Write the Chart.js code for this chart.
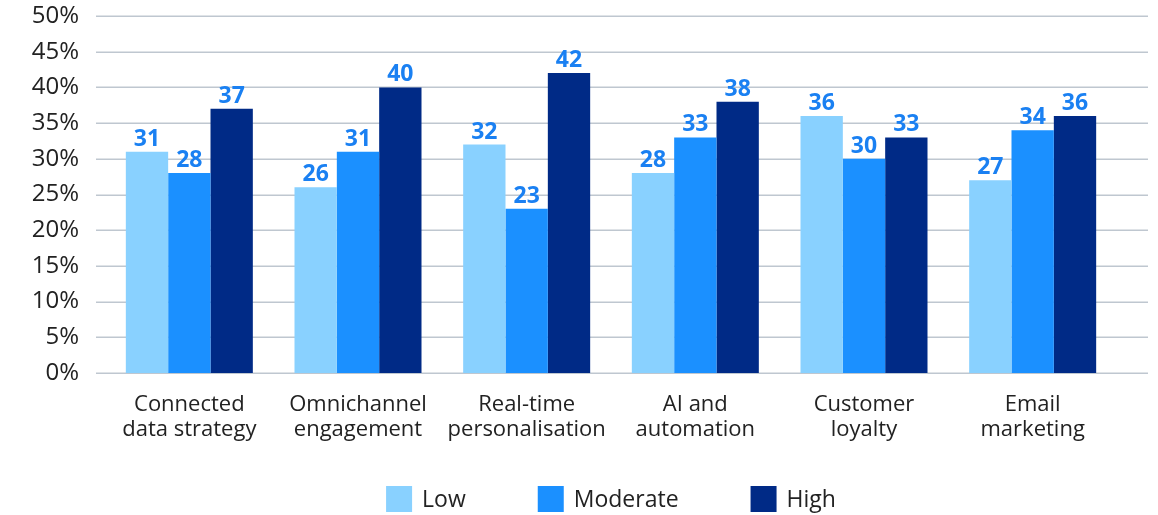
<!DOCTYPE html>
<html>
<head>
<meta charset="utf-8">
<script src="https://cdn.jsdelivr.net/npm/chart.js@4.4.1/dist/chart.umd.min.js"></script>
<style>
  html, body { margin: 0; padding: 0; background: #ffffff; }
  #wrap { width: 1158px; height: 515px; position: relative; }
</style>
</head>
<body>
<div id="wrap"><canvas id="chart"></canvas></div>
<script>
// Categories (multi-line labels) and values per maturity level
const categories = [
  ["Connected", "data strategy"],
  ["Omnichannel", "engagement"],
  ["Real-time", "personalisation"],
  ["AI and", "automation"],
  ["Customer", "loyalty"],
  ["Email", "marketing"]
];
const seriesNames = ["Low", "Moderate", "High"];
const lowValues = [31, 26, 32, 28, 36, 27];
const moderateValues = [28, 31, 23, 33, 30, 34];
const highValues = [37, 40, 42, 38, 33, 36];
const yTickValues = [0, 5, 10, 15, 20, 25, 30, 35, 40, 45, 50];

const seriesColors = ["#89d1ff", "#1b90ff", "#002a86"];
const FONT = "'Open Sans', 'Noto Sans', sans-serif";
const TEXT_COLOR = "#222222";
const VALUE_COLOR = "#1a80f2";
const GRID_COLOR = "#bfc7d0";

// Horizontal gridlines, running a bit wider than the bar area
const gridPlugin = {
  id: "wideGrid",
  beforeDatasetsDraw(chart) {
    const { ctx, scales: { y } } = chart;
    ctx.save();
    ctx.strokeStyle = GRID_COLOR;
    ctx.lineWidth = 1.5;
    yTickValues.forEach(v => {
      const py = Math.round(y.getPixelForValue(v)) + 0.25;
      ctx.beginPath();
      ctx.moveTo(96, py);
      ctx.lineTo(1148, py);
      ctx.stroke();
    });
    ctx.restore();
  }
};

// Value labels above each bar
const valueLabelPlugin = {
  id: "valueLabels",
  afterDatasetsDraw(chart) {
    const { ctx } = chart;
    ctx.save();
    ctx.font = "bold 23px " + FONT;
    ctx.fillStyle = VALUE_COLOR;
    ctx.textAlign = "center";
    ctx.textBaseline = "alphabetic";
    chart.data.datasets.forEach((ds, i) => {
      const meta = chart.getDatasetMeta(i);
      meta.data.forEach((bar, j) => {
        ctx.fillText(String(ds.data[j]), bar.x, bar.y - 6);
      });
    });
    ctx.restore();
  }
};

// Legend row under the axis labels
const legendPlugin = {
  id: "bottomLegend",
  afterDraw(chart) {
    const { ctx, chartArea } = chart;
    const box = 26, gap = 10, itemGap = 72;
    ctx.save();
    ctx.font = "23px " + FONT;
    const items = chart.data.datasets.map(ds => ({
      label: ds.label, color: ds.backgroundColor,
      w: box + gap + ctx.measureText(ds.label).width
    }));
    const total = items.reduce((s, it) => s + it.w, 0) + itemGap * (items.length - 1);
    let x = (chartArea.left + chartArea.right) / 2 - total / 2;
    const top = chartArea.bottom + 113;
    ctx.textBaseline = "middle";
    ctx.textAlign = "left";
    items.forEach(it => {
      ctx.fillStyle = it.color;
      ctx.fillRect(x, top, box, box);
      ctx.fillStyle = TEXT_COLOR;
      ctx.fillText(it.label, x + box + gap, top + box / 2 + 1);
      x += it.w + itemGap;
    });
    ctx.restore();
  }
};

const valueSets = [lowValues, moderateValues, highValues];

new Chart(document.getElementById("chart"), {
  type: "bar",
  data: {
    labels: categories,
    datasets: seriesNames.map((name, i) => ({
      label: name,
      data: valueSets[i],
      backgroundColor: seriesColors[i],
      borderWidth: 0,
      barPercentage: 1.0,
      categoryPercentage: 0.753
    }))
  },
  options: {
    responsive: true,
    maintainAspectRatio: false,
    animation: false,
    layout: { padding: { top: 16, right: 41, bottom: 62, left: 0 } },
    plugins: {
      legend: { display: false },
      tooltip: { enabled: false }
    },
    scales: {
      x: {
        grid: { display: false, drawTicks: false },
        border: { display: false },
        ticks: {
          color: TEXT_COLOR,
          font: { family: FONT, size: 22, lineHeight: 1.15 },
          padding: 19,
          maxRotation: 0,
          autoSkip: false
        },
        afterFit(scale) {
          scale.height = 80;
          scale.paddingLeft = 0;
          scale.paddingRight = 0;
        }
      },
      y: {
        min: 0,
        max: 50,
        grid: { display: false, drawTicks: false },
        border: { display: false },
        ticks: {
          stepSize: 5,
          color: TEXT_COLOR,
          font: { family: FONT, size: 24 },
          padding: 26,
          callback: v => v + "%"
        },
        afterFit(scale) {
          scale.width = 105;
          scale.paddingTop = 0;
          scale.paddingBottom = 0;
        }
      }
    }
  },
  plugins: [gridPlugin, valueLabelPlugin, legendPlugin]
});
</script>
</body>
</html>
